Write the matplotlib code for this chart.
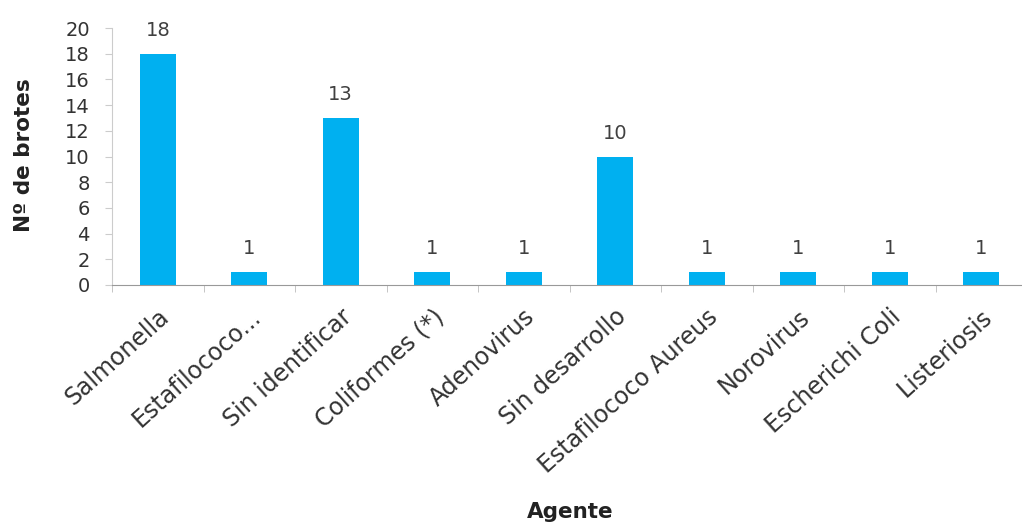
import numpy as np
from matplotlib import pyplot as plt

agentes = ["Salmonella", "Estafilococo...", "Sin identificar", "Coliformes (*)",
           "Adenovirus", "Sin desarrollo", "Estafilococo Aureus", "Norovirus",
           "Escherichi Coli", "Listeriosis"]
brotes = [18, 1, 13, 1, 1, 10, 1, 1, 1, 1]

plt.rcParams['font.family'] = ['DejaVu Sans']
fig = plt.figure(figsize=(10.22, 5.24), dpi=100)
ax = fig.add_axes([112 / 1022, (524 - 285) / 524, (1027 - 112) / 1022, (285 - 28) / 524])

x = np.arange(len(agentes))
ax.bar(x, brotes, width=0.39, color='#00B0F0')
for xi, v in zip(x, brotes):
    ax.annotate(str(v), (xi, v), xytext=(0, 10), textcoords='offset points',
                ha='center', va='bottom', fontsize=14, color='#404040')

ax.set_xlim(-0.5, len(agentes) - 0.5)
ax.set_ylim(0, 20)
ax.set_yticks(range(0, 21, 2))
ax.set_xticks(x)
ax.set_xticklabels(agentes, rotation=42, ha='right', rotation_mode='anchor',
                   fontsize=17, color='#333333')
ax.set_xticks(np.arange(-0.5, len(agentes)), minor=True)
ax.tick_params(axis='x', which='major', length=0, pad=14)
ax.tick_params(axis='x', which='minor', length=5, color='#bbbbbb')
ax.tick_params(axis='y', length=5, color='#cccccc', labelsize=14, labelcolor='#333333', pad=11)

for s in ['top', 'right']:
    ax.spines[s].set_visible(False)
ax.spines['left'].set_color('#cccccc')
ax.spines['bottom'].set_color('#999999')

fig.text(24 / 1022, 1 - 155 / 524, "Nº de brotes", rotation=90, ha='center', va='center',
         fontsize=15.5, fontweight='bold', color='#222222')
fig.text(570 / 1022, 1 - 512 / 524, "Agente", ha='center', va='center',
         fontsize=15.5, fontweight='bold', color='#222222')

fig.savefig('out.png', dpi=100)
